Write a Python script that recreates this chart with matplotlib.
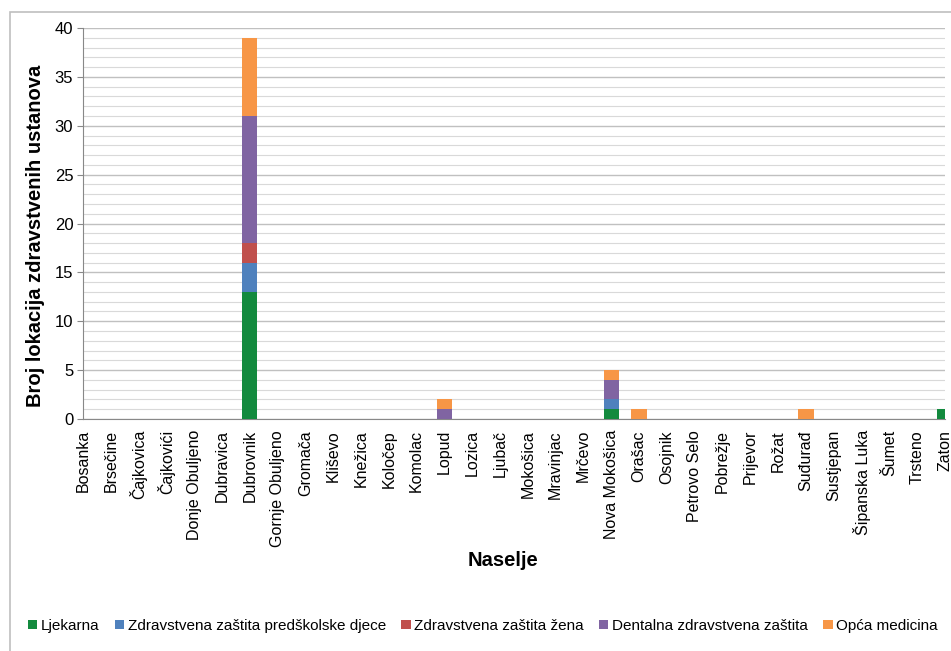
import matplotlib.pyplot as plt
import matplotlib.patches as mpatches
import numpy as np

plt.rcParams['font.family'] = ['Liberation Sans', 'DejaVu Sans']

# categories (settlements)
naselja = ["Bosanka", "Brsečine", "Čajkovica", "Čajkovići", "Donje Obuljeno",
           "Dubravica", "Dubrovnik", "Gornje Obuljeno", "Gromača", "Kliševo",
           "Knežica", "Koločep", "Komolac", "Lopud", "Lozica", "Ljubač",
           "Mokošica", "Mravinjac", "Mrčevo", "Nova Mokošica", "Orašac",
           "Osojnik", "Petrovo Selo", "Pobrežje", "Prijevor", "Rožat",
           "Suđurađ", "Sustjepan", "Šipanska Luka", "Šumet", "Trsteno", "Zaton"]

serije = ["Ljekarna", "Zdravstvena zaštita predškolske djece",
          "Zdravstvena zaštita žena", "Dentalna zdravstvena zaštita",
          "Opća medicina"]

n = len(naselja)
ljekarna = [0]*n
predskolska = [0]*n
zena = [0]*n
dentalna = [0]*n
opca = [0]*n

# Dubrovnik
ljekarna[6] = 13; predskolska[6] = 3; zena[6] = 2; dentalna[6] = 13; opca[6] = 8
# Lopud
dentalna[13] = 1; opca[13] = 1
# Nova Mokosica
ljekarna[19] = 1; predskolska[19] = 1; dentalna[19] = 2; opca[19] = 1
# Orasac, Sudurad, Zaton
opca[20] = 1
opca[26] = 1
ljekarna[31] = 1

boje = ['#138a3e', '#4f81bd', '#c0504d', '#8064a2', '#f79646']

fig = plt.figure(figsize=(9.51, 6.51), dpi=100)
# outer chart frame (cropped at right/bottom in the original)
fig.patches.append(mpatches.Rectangle((10/951, -0.1), 2, 1.1 - 12/651,
                                      transform=fig.transFigure, fill=False,
                                      edgecolor='#bfbfbf', lw=1.2))

ax = fig.add_axes([83/951, 1-419/651, 862/951, 391/651])

x = np.arange(n)
dno = np.zeros(n)
for vals, lab, c in zip([ljekarna, predskolska, zena, dentalna, opca], serije, boje):
    ax.bar(x, vals, width=0.55, bottom=dno, color=c, label=lab, zorder=3)
    dno += np.array(vals)

ax.set_xlim(0, n - 1)
ax.set_ylim(0, 40)
ax.set_yticks(range(0, 41, 5))
ax.set_yticks(range(0, 41, 1), minor=True)
ax.grid(axis='y', which='minor', color='#d9d9d9', lw=0.8, zorder=0)
ax.grid(axis='y', which='major', color='#c0c0c0', lw=1.0, zorder=0)
ax.tick_params(axis='y', which='minor', length=0)
ax.tick_params(axis='y', which='major', length=4, color='#888888', labelsize=12, pad=3)

ax.set_xticks(x)
ax.set_xticklabels(naselja, rotation=90, fontsize=11.5)
ax.tick_params(axis='x', length=0, pad=8)

for s in ['top', 'right']:
    ax.spines[s].set_visible(False)
ax.spines['left'].set_color('#888888')
ax.spines['bottom'].set_color('#888888')

fig.text(0.037, 1-236/651, "Broj lokacija zdravstvenih ustanova", rotation=90,
         ha='center', va='center', fontsize=14.5, fontweight='bold')
fig.text(503/951, 1-560/651, "Naselje", ha='center', va='center',
         fontsize=14.5, fontweight='bold')

fig.legend(*ax.get_legend_handles_labels(), loc='center',
           bbox_to_anchor=(483/951, 1-626/651), ncol=5, frameon=False,
           fontsize=11, handlelength=0.6, handleheight=0.6,
           handletextpad=0.25, columnspacing=1.0)

fig.savefig("out.png", dpi=100)
